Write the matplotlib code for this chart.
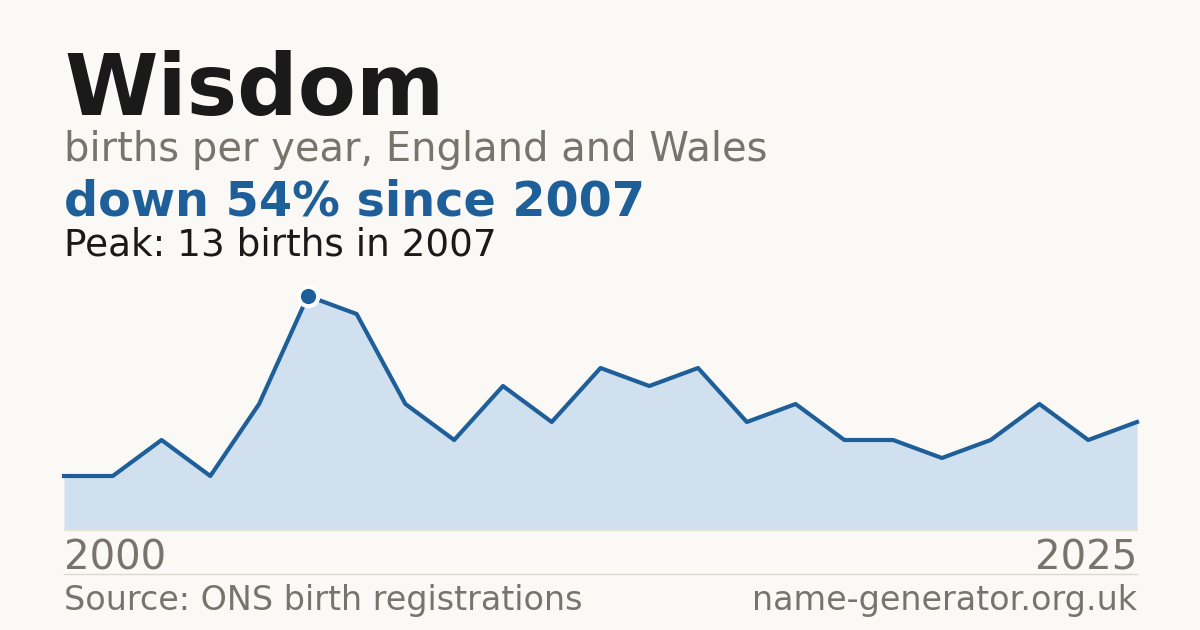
import numpy as np
import matplotlib.pyplot as plt

# Data
years = list(range(2002, 2025))
births = [3, 3, 5, 3, 7, 13, 12, 7, 5, 8, 6, 9, 8, 9, 6, 7, 5, 5, 4, 5, 7, 5, 6]
peak_year = 2007
name = "Wisdom"
subtitle = "births per year, England and Wales"
headline = "down 54% since 2007"
peak_text = "Peak: 13 births in 2007"
start_label = "2000"
end_label = "2025"
source_text = "Source: ONS birth registrations"
site_text = "name-generator.org.uk"

bg = '#faf9f5'
blue = '#1f5f99'
fill = '#d0e0ef'
grey = '#78746c'
dark = '#1a1a1a'

W, H = 1200, 630
fig = plt.figure(figsize=(W / 100, H / 100), dpi=100)
fig.patch.set_facecolor(bg)


def fx(px):
    return px / W


def fy(py):
    return 1 - py / H


# Header texts
fig.text(fx(64), fy(115), name, fontsize=61, fontweight='bold', color=dark, va='baseline')
fig.text(fx(64), fy(161), subtitle, fontsize=28.8, color=grey, va='baseline')
fig.text(fx(64), fy(215), headline, fontsize=34.4, fontweight='bold', color=blue, va='baseline')
fig.text(fx(64), fy(255), peak_text, fontsize=26.9, color=dark, va='baseline')

# Chart area
ax = fig.add_axes([fx(64), fy(530), fx(1137) - fx(64), (530 - 296) / H])
ax.set_facecolor('none')
ax.fill_between(years, births, 0, color=fill, linewidth=0)
ax.plot(years, births, color=blue, linewidth=3, solid_joinstyle='round', clip_on=False)
pk = births[years.index(peak_year)]
ax.plot([peak_year], [pk], 'o', color=blue, markersize=14, markeredgecolor='white',
        markeredgewidth=3, clip_on=False, zorder=5)
ax.set_xlim(years[0], years[-1])
ax.set_ylim(0, max(births))
ax.axis('off')

# baseline and separator
fig.add_artist(plt.Line2D([fx(64), fx(1137)], [fy(530), fy(530)], color='#ebe3d3', linewidth=1))
fig.add_artist(plt.Line2D([fx(64), fx(1137)], [fy(574), fy(574)], color='#dcd8d0', linewidth=1))

# Axis end labels
fig.text(fx(64), fy(569), start_label, fontsize=29, color=grey, va='baseline', ha='left')
fig.text(fx(1137), fy(569), end_label, fontsize=29, color=grey, va='baseline', ha='right')

# Footer
fig.text(fx(64), fy(610), source_text, fontsize=24, color=grey, va='baseline', ha='left')
fig.text(fx(1137), fy(610), site_text, fontsize=24, color=grey, va='baseline', ha='right')

fig.savefig('out.png', dpi=100, facecolor=bg)
